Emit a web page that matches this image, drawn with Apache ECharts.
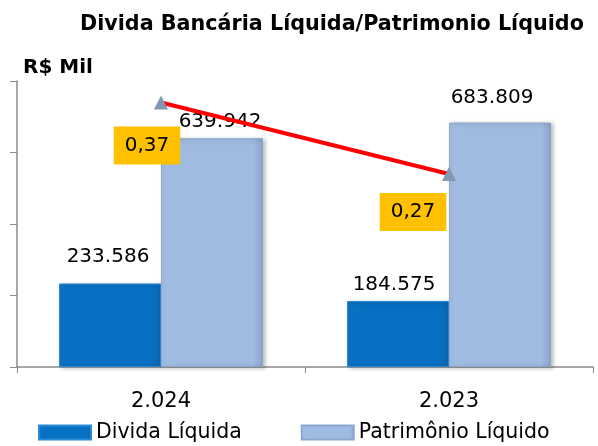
<!DOCTYPE html>
<html>
<head>
<meta charset="utf-8">
<script src="https://cdn.jsdelivr.net/npm/echarts@6/dist/echarts.min.js"></script>
<style>
html,body{margin:0;padding:0;background:#fff;}
#c{width:598px;height:446px;}
</style>
</head>
<body>
<div id="c"></div>
<script>
var categories = ['2.024', '2.023'];
var dividaLiquida = [233586, 184575];
var patrimonioLiquido = [639942, 683809];
var ratio = [0.37, 0.27];
var ratioLabels = ['0,37', '0,27'];
var seriesNames = ['Divida Líquida', 'Patrimônio Líquido'];
var titleText = 'Divida Bancária Líquida/Patrimonio Líquido';
var unitText = 'R$ Mil';

function fmt(v) {
  return String(v).replace(/\B(?=(\d{3})+(?!\d))/g, '.');
}

var FONT = 'DejaVu Sans';
var chart = echarts.init(document.getElementById('c'), null, {renderer: 'canvas'});

var darkBar = new echarts.graphic.LinearGradient(0, 0, 1, 0, [
  {offset: 0, color: '#0f78c8'}, {offset: 0.1, color: '#0670c2'},
  {offset: 0.9, color: '#0670c2'}, {offset: 1, color: '#0a66b0'}
]);
var lightBar = new echarts.graphic.LinearGradient(0, 0, 1, 0, [
  {offset: 0, color: '#a9c4e6'}, {offset: 0.1, color: '#9fbbe1'},
  {offset: 0.9, color: '#9fbbe1'}, {offset: 1, color: '#8aa6cc'}
]);

var barLabelOffsets1 = [[-2, -5], [-4, 6]];
var barLabelOffsets2 = [[8, 6], [-8, -3]];
var ratioLabelOffsets = [[-14, 12], [-36, 7]];

var option = {
  animation: false,
  backgroundColor: '#ffffff',
  title: [{
    text: titleText, left: 75, top: 9,
    textStyle: {fontFamily: FONT, fontWeight: 'bold', fontSize: 20.7, color: '#000'}
  }, {
    text: unitText, left: 18, top: 53,
    textStyle: {fontFamily: FONT, fontWeight: 'bold', fontSize: 20, color: '#000'}
  }],
  legend: {
    bottom: -2, left: 33, itemGap: 59,
    itemWidth: 52, itemHeight: 14,
    icon: 'rect',
    textStyle: {fontFamily: FONT, fontSize: 20.5, color: '#000', padding: [0, 0, 0, 0]},
    data: [{name: seriesNames[0]}, {name: seriesNames[1]}]
  },
  grid: {left: 17, right: 5, top: 81, bottom: 79},
  xAxis: {
    type: 'category', data: categories,
    axisLine: {lineStyle: {color: '#8a8a8a', width: 1.5}},
    axisTick: {show: true, length: 6, lineStyle: {color: '#8a8a8a'}},
    axisLabel: {fontFamily: FONT, fontSize: 21, color: '#000', margin: 24}
  },
  yAxis: [{
    type: 'value', min: 0, max: 800000, interval: 200000,
    axisLine: {show: true, lineStyle: {color: '#8a8a8a', width: 1.5}},
    axisTick: {show: true, length: 7, lineStyle: {color: '#8a8a8a'}},
    axisLabel: {show: false},
    splitLine: {show: false}
  }, {
    type: 'value', min: 0, max: 0.4, show: false, splitLine: {show: false}
  }],
  series: [{
    name: seriesNames[0], type: 'bar', barWidth: 102, barGap: '0%',
    itemStyle: {color: darkBar, borderColor: '#2a8ad6', borderWidth: 1,
      shadowColor: 'rgba(0,0,0,0.25)', shadowBlur: 4, shadowOffsetX: 2, shadowOffsetY: 1},
    label: {show: true, position: 'top', distance: 12, fontFamily: FONT, fontSize: 20, color: '#000',
      formatter: function (p) { return fmt(p.value); }},
    data: dividaLiquida.map(function (v, i) { return {value: v, label: {offset: barLabelOffsets1[i]}}; })
  }, {
    name: seriesNames[1], type: 'bar', barWidth: 102,
    itemStyle: {color: lightBar, borderColor: '#8ba7cd', borderWidth: 1,
      shadowColor: 'rgba(0,0,0,0.25)', shadowBlur: 4, shadowOffsetX: 2, shadowOffsetY: 1},
    label: {show: true, position: 'top', distance: 12, fontFamily: FONT, fontSize: 20, color: '#000',
      formatter: function (p) { return fmt(p.value); }},
    data: patrimonioLiquido.map(function (v, i) { return {value: v, label: {offset: barLabelOffsets2[i]}}; })
  }, {
    name: 'ratio', type: 'line', yAxisIndex: 1,
    lineStyle: {color: '#ff0000', width: 4},
    symbol: 'triangle', symbolSize: 14,
    itemStyle: {color: '#8497b0'},
    z: 5,
    label: {show: true, position: 'bottom', fontFamily: FONT, fontSize: 20, color: '#000',
      backgroundColor: '#ffc000', padding: [9, 11, 9, 11],
      formatter: function (p) { return ratioLabels[p.dataIndex]; }},
    data: ratio.map(function (v, i) { return {value: v, label: {offset: ratioLabelOffsets[i]}}; })
  }]
};
chart.setOption(option);
</script>
</body>
</html>
